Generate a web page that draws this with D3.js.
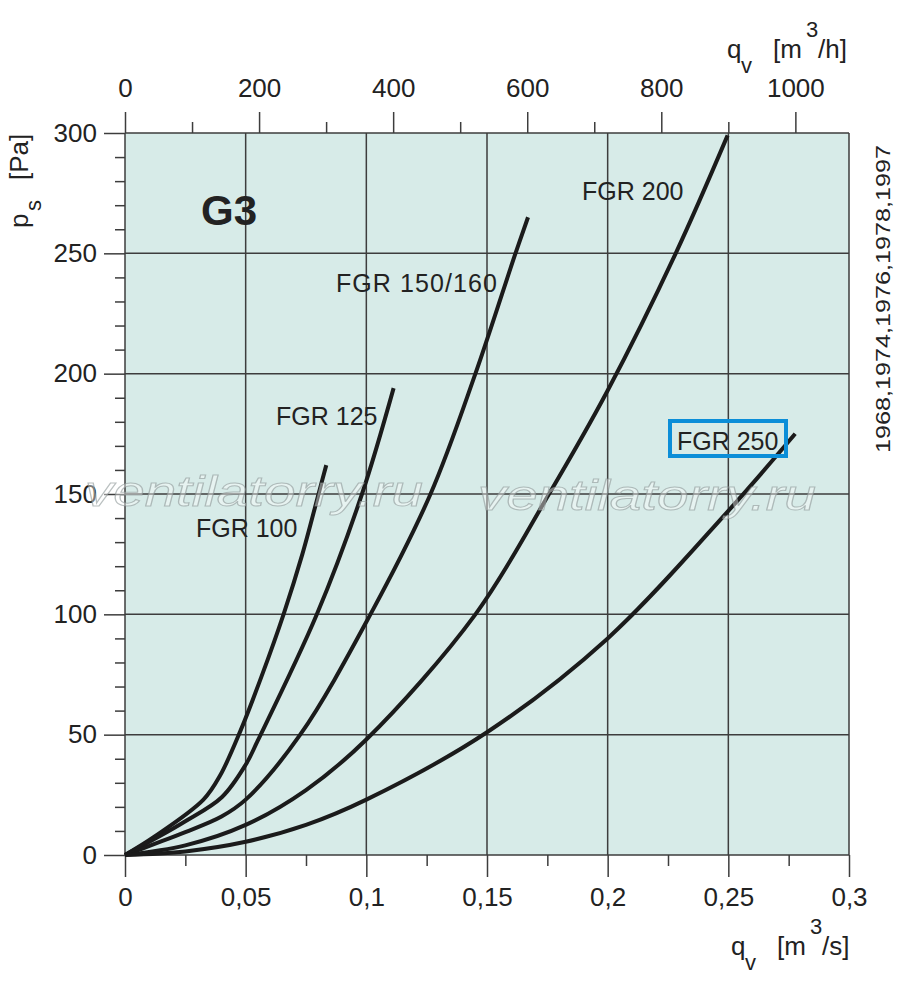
<!DOCTYPE html>
<html>
<head>
<meta charset="utf-8">
<script src="https://cdn.jsdelivr.net/npm/d3@7"></script>
<style>
  body { margin: 0; background: #fff; }
  text { font-family: "Liberation Sans", Arial, sans-serif; fill: #222; }
</style>
</head>
<body>
<div id="vis"></div>
<script>
// flow q [m3/s] vs static pressure p [Pa]
const fgr100 = [[0,0],[0.012,7.5],[0.0325,23],[0.0394,33],[0.048,52],[0.0565,74],[0.0657,100],[0.0735,125],[0.0802,150],[0.0834,162]];
const fgr125 = [[0,0],[0.012,6.5],[0.025,14],[0.0401,24],[0.05,37.5],[0.055,47.5],[0.0795,100],[0.0982,150],[0.1113,194]];
const fgr150 = [[0,0],[0.012,4.5],[0.025,9.5],[0.04,16],[0.05,23],[0.0726,50],[0.1017,100],[0.1266,150],[0.1452,200],[0.1618,250],[0.167,265]];
const fgr200 = [[0,0],[0.025,4],[0.05,12.5],[0.075,27],[0.1,48],[0.1452,100],[0.1757,150],[0.2,193],[0.2282,250],[0.2497,299]];
const fgr250 = [[0,0],[0.025,1.5],[0.05,5.5],[0.075,12.5],[0.1,23],[0.15,51],[0.2,90],[0.25,143],[0.2777,175]];

const seriesNames = ["FGR 100", "FGR 125", "FGR 150/160", "FGR 200", "FGR 250"];
const seriesData = [fgr100, fgr125, fgr150, fgr200, fgr250];
// label anchor points, in data units
const labelQ = [0.0294, 0.0626, 0.0874, 0.1894, 0.2287];
const labelP = [132, 178.7, 233.9, 272.1, 168.3];

const xTicks = [0, 0.05, 0.1, 0.15, 0.2, 0.25, 0.3];
const xMinor = [0.025, 0.075, 0.125, 0.175, 0.225, 0.275];
const yTicks = [0, 50, 100, 150, 200, 250, 300];
const yMinor = d3.range(10, 300, 10).filter(v => v % 50 !== 0);
const topTicks = [0, 200, 400, 600, 800, 1000];
const topMinor = [100, 300, 500, 700, 900];
const sideNote = "1968,1974,1976,1978,1997";
const watermark = "ventilatorry.ru";

let width = 900, height = 988;
let margin = { top: 133, left: 125, right: 51, bottom: 133 };

let svg = d3.select('#vis')
  .append('svg')
  .attr('width', width)
  .attr('height', height)
  .style('background-color', 'white');

let x = d3.scaleLinear().domain([0, 0.3]).range([margin.left, width - margin.right]);
let y = d3.scaleLinear().domain([0, 300]).range([height - margin.bottom, margin.top]);
// m3/h on top, same physical range
let xTop = d3.scaleLinear().domain([0, 0.3 * 3600]).range(x.range());

let fmt = d => String(d).replace('.', ',');

// plot background
svg.append('rect')
  .attr('x', x(0)).attr('y', y(300))
  .attr('width', x(0.3) - x(0)).attr('height', y(0) - y(300))
  .attr('fill', '#d7ebe8');

// grid
let grid = svg.append('g').attr('stroke', '#3d3d3d').attr('stroke-width', 1.5);
grid.selectAll('line.v').data(xTicks).join('line')
  .attr('x1', d => x(d)).attr('x2', d => x(d))
  .attr('y1', y(0)).attr('y2', y(300));
grid.selectAll('line.h').data(yTicks).join('line')
  .attr('x1', x(0)).attr('x2', x(0.3))
  .attr('y1', d => y(d)).attr('y2', d => y(d));

function styleAxis(g) {
  g.select('.domain').remove();
  g.selectAll('line').attr('stroke', '#3d3d3d').attr('stroke-width', 1.5);
  g.selectAll('text').attr('font-size', 26).attr('fill', '#222')
    .attr('font-family', '"Liberation Sans", Arial, sans-serif');
}

// bottom axis
svg.append('g').attr('transform', `translate(0, ${y(0)})`)
  .call(d3.axisBottom(x).tickValues(xTicks).tickSize(22).tickPadding(11).tickFormat(fmt))
  .call(styleAxis);
svg.append('g').attr('transform', `translate(0, ${y(0)})`)
  .call(d3.axisBottom(x).tickValues(xMinor).tickSize(11).tickFormat(''))
  .call(styleAxis);

// left axis
svg.append('g').attr('transform', `translate(${x(0)}, 0)`)
  .call(d3.axisLeft(y).tickValues(yTicks).tickSize(21).tickPadding(7))
  .call(styleAxis);
svg.append('g').attr('transform', `translate(${x(0)}, 0)`)
  .call(d3.axisLeft(y).tickValues(yMinor).tickSize(10).tickFormat(''))
  .call(styleAxis);

// top axis (m3/h)
svg.append('g').attr('transform', `translate(0, ${y(300)})`)
  .call(d3.axisTop(xTop).tickValues(topTicks).tickSize(21).tickPadding(15).tickFormat(d => String(d)))
  .call(styleAxis);
svg.append('g').attr('transform', `translate(0, ${y(300)})`)
  .call(d3.axisTop(xTop).tickValues(topMinor).tickSize(11).tickFormat(''))
  .call(styleAxis);

// curves
let line = d3.line()
  .x(d => x(d[0]))
  .y(d => y(d[1]))
  .curve(d3.curveCatmullRom.alpha(0.5));

svg.append('g')
  .selectAll('path')
  .data(seriesData)
  .join('path')
  .attr('d', line)
  .attr('fill', 'none')
  .attr('stroke', '#1b1b1b')
  .attr('stroke-width', 4);

svg.append('g')
  .selectAll('text')
  .data(seriesNames)
  .join('text')
  .attr('x', (d, i) => x(labelQ[i]))
  .attr('y', (d, i) => y(labelP[i]))
  .attr('font-size', 25)
  .attr('textLength', d => d === 'FGR 150/160' ? 161 : null)
  .text(d => d);

svg.append('text')
  .attr('x', x(0.0315)).attr('y', y(261.8))
  .attr('font-size', 42).attr('font-weight', 'bold')
  .text('G3');

// axis titles
function flowTitle(px, py, unit) {
  let t = svg.append('text').attr('font-size', 26);
  t.append('tspan').attr('x', px).attr('y', py).text('q');
  t.append('tspan').attr('x', px + 14).attr('y', py + 15).attr('font-size', 22).text('v');
  t.append('tspan').attr('x', px + 46).attr('y', py).text('[m');
  t.append('tspan').attr('x', px + 79).attr('y', py - 21).attr('font-size', 22).text('3');
  t.append('tspan').attr('x', px + 91).attr('y', py).text('/' + unit + ']');
}
flowTitle(727, 58, 'h');
flowTitle(731, 955, 's');

let yt = svg.append('text').attr('font-size', 26)
  .attr('transform', 'translate(28, 228) rotate(-90)');
yt.append('tspan').attr('x', 0).attr('y', 0).text('p');
yt.append('tspan').attr('x', 17).attr('y', 13).attr('font-size', 22).text('s');
yt.append('tspan').attr('x', 48).attr('y', 0).text('[Pa]');

svg.append('text')
  .attr('transform', 'translate(890, 299) rotate(-90)')
  .attr('text-anchor', 'middle')
  .attr('font-size', 21)
  .attr('textLength', 308)
  .attr('lengthAdjust', 'spacingAndGlyphs')
  .text(sideNote);

// watermark
svg.append('g')
  .selectAll('text')
  .data([[85, 506], [478, 510]])
  .join('text')
  .attr('x', d => d[0]).attr('y', d => d[1])
  .attr('font-size', 42)
  .attr('font-style', 'italic')
  .attr('font-family', '"DejaVu Sans", sans-serif')
  .attr('textLength', 338)
  .attr('lengthAdjust', 'spacingAndGlyphs')
  .style('fill', 'rgba(255,255,255,0.4)')
  .attr('stroke', 'rgba(140,150,150,0.6)')
  .attr('stroke-width', 1)
  .text(watermark);

// highlight box around FGR 250 label
svg.append('rect')
  .attr('x', 670).attr('y', 421)
  .attr('width', 116).attr('height', 35)
  .attr('fill', 'none')
  .attr('stroke', '#0b8ed8')
  .attr('stroke-width', 4);
</script>
</body>
</html>
